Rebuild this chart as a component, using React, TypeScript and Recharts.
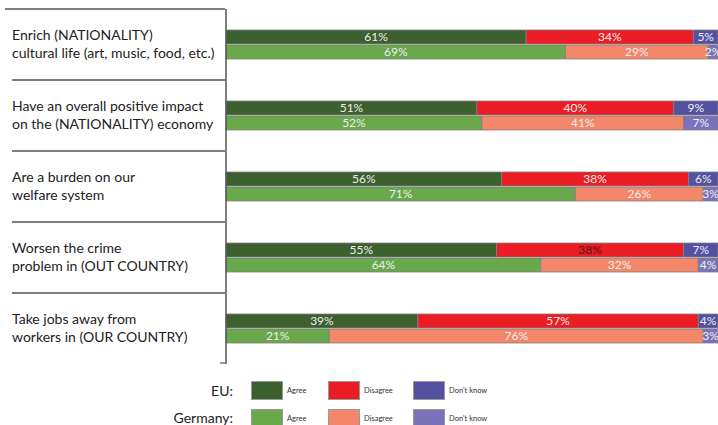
import { Bar, BarChart, LabelList, XAxis, YAxis } from 'recharts';

// Statements, two lines each
const statements = [
  ['Enrich (NATIONALITY)', 'cultural life (art, music, food, etc.)'],
  ['Have an overall positive impact', 'on the (NATIONALITY) economy'],
  ['Are a burden on our', 'welfare system'],
  ['Worsen the crime', 'problem in (OUT COUNTRY)'],
  ['Take jobs away from', 'workers in (OUR COUNTRY)'],
];

const euAgree = [61, 51, 56, 55, 39];
const euDisagree = [34, 40, 38, 38, 57];
const euDontKnow = [5, 9, 6, 7, 4];
const deAgree = [69, 52, 71, 64, 21];
const deDisagree = [29, 41, 26, 32, 76];
const deDontKnow = [2, 7, 3, 4, 3];

const legendGroups = ['EU:', 'Germany:'];
const legendItems = ['Agree', 'Disagree', "Don't know"];

const COLORS = {
  euAgree: '#3c602e',
  euDisagree: '#ec1c24',
  euDontKnow: '#5451a3',
  deAgree: '#6aa84c',
  deDisagree: '#f4866a',
  deDontKnow: '#7a73ba',
};

const FONT = 'Lato, "Open Sans", sans-serif';

const data = statements.map((lines, i) => ({
  name: lines.join('\n'),
  euAgree: euAgree[i],
  euDisagree: euDisagree[i],
  euDontKnow: euDontKnow[i],
  deAgree: deAgree[i],
  deDisagree: deDisagree[i],
  deDontKnow: deDontKnow[i],
}));

const TOP = 9;
const BAND = 71;

function StatementTick(props: any) {
  const { y, payload, index } = props;
  const lines = String(payload.value).split('\n');
  const top = y - BAND / 2;
  return (
    <g>
      <line
        x1={index === 0 ? 5 : 12}
        x2={225}
        y1={top}
        y2={top}
        stroke="#555"
        strokeWidth={1.4}
      />
      {index === statements.length - 1 && (
        <line x1={220} x2={225} y1={top + BAND - 1} y2={top + BAND - 1} stroke="#555" strokeWidth={1.2} />
      )}
      {lines.map((t, k) => (
        <text
          key={k}
          x={12}
          y={y - 9 + k * 18}
          dy="0.35em"
          fontFamily={FONT}
          fontSize={14}
          fill="#222"
        >
          {t}
        </text>
      ))}
    </g>
  );
}

// the EU "Disagree" figure for the crime row is printed in dark red
function segmentLabel(key: string) {
  return (props: any) => {
    const { x, y, width, height, value, index } = props;
    const dark = key === 'euDisagree' && index === 3;
    return (
      <text
        x={Number(x) + Number(width) / 2}
        y={Number(y) + Number(height) / 2}
        dy="0.36em"
        textAnchor="middle"
        fontFamily={FONT}
        fontSize={12}
        fill={dark ? '#5a1313' : '#eeeeee'}
      >
        {value}%
      </text>
    );
  };
}

const series: { key: keyof typeof COLORS; stack: string }[] = [
  { key: 'euAgree', stack: 'eu' },
  { key: 'euDisagree', stack: 'eu' },
  { key: 'euDontKnow', stack: 'eu' },
  { key: 'deAgree', stack: 'de' },
  { key: 'deDisagree', stack: 'de' },
  { key: 'deDontKnow', stack: 'de' },
];

function LegendBlock() {
  const rowKeys: (keyof typeof COLORS)[][] = [
    ['euAgree', 'euDisagree', 'euDontKnow'],
    ['deAgree', 'deDisagree', 'deDontKnow'],
  ];
  const swatchX = [252, 329, 414];
  return (
    <div style={{ position: 'absolute', left: 0, top: 0, width: 718, height: 425, pointerEvents: 'none' }}>
      {legendGroups.map((g, r) => (
        <div key={g}>
          <div
            style={{
              position: 'absolute',
              right: 718 - 233,
              top: 382 + r * 27,
              lineHeight: '17px',
              fontFamily: FONT,
              fontSize: 14,
              color: '#222',
            }}
          >
            {g}
          </div>
          {legendItems.map((label, c) => (
            <div key={label}>
              <div
                style={{
                  position: 'absolute',
                  left: swatchX[c],
                  top: 382 + r * 28,
                  width: 30,
                  height: 17,
                  background: COLORS[rowKeys[r][c]],
                  boxShadow: '0 0 0 1px #999',
                }}
              />
              <div
                style={{
                  position: 'absolute',
                  left: swatchX[c] + 35,
                  top: 382 + r * 28,
                  lineHeight: '17px',
                  fontFamily: FONT,
                  fontSize: 7.5,
                  color: '#333',
                }}
              >
                {label}
              </div>
            </div>
          ))}
        </div>
      ))}
    </div>
  );
}

export default function App() {
  return (
    <div style={{ position: 'absolute', left: 0, top: 0, width: 718, height: 425, background: '#fff', overflow: 'hidden' }}>
      <BarChart
        width={720}
        height={425}
        data={data}
        layout="vertical"
        margin={{ top: TOP, right: 2, bottom: 425 - TOP - BAND * 5, left: 0 }}
        barSize={14}
        barGap={1}
        barCategoryGap={0}
      >
        <XAxis type="number" domain={[0, 100]} hide />
        <YAxis
          type="category"
          dataKey="name"
          width={226}
          axisLine={{ stroke: '#555', strokeWidth: 1.5 }}
          tickLine={false}
          tick={<StatementTick />}
          interval={0}
        />
        {series.map((s) => (
          <Bar
            key={s.key}
            dataKey={s.key}
            stackId={s.stack}
            fill={COLORS[s.key]}
            stroke="#7f7f7f"
            strokeWidth={0.8}
            isAnimationActive={false}
          >
            <LabelList dataKey={s.key} content={segmentLabel(s.key)} />
          </Bar>
        ))}
      </BarChart>
      <LegendBlock />
    </div>
  );
}
